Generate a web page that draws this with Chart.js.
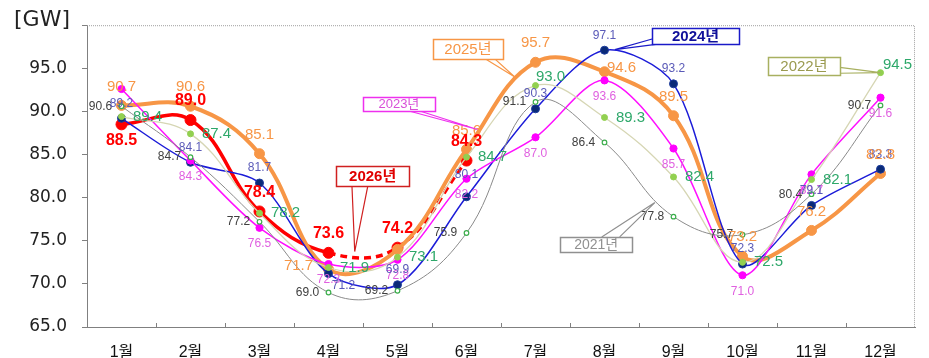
<!DOCTYPE html>
<html>
<head>
<meta charset="utf-8">
<script src="https://cdn.jsdelivr.net/npm/chart.js@4"></script>
<style>
  html, body { margin: 0; background: #fff; }
  #wrap { width: 929px; height: 358px; }
</style>
</head>
<body>
<div id="wrap"><canvas id="chart"></canvas></div>
<script>
// 월별 최대전력수요 [GW]
const months = ['1월', '2월', '3월', '4월', '5월', '6월', '7월', '8월', '9월', '10월', '11월', '12월'];
const y2021 = [90.6, 84.7, 77.2, 69.0, 69.2, 75.9, 91.1, 86.4, 77.8, 75.7, 80.4, 90.7];
const y2022 = [89.4, 87.4, 78.2, 71.9, 73.1, 84.7, 93.0, 89.3, 82.4, 72.5, 82.1, 94.5];
const y2023 = [92.6, 84.3, 76.5, 72.3, 72.8, 82.2, 87.0, 93.6, 85.7, 71.0, 82.7, 91.6];
const y2024 = [89.2, 84.1, 81.7, 71.2, 69.9, 80.1, 90.3, 97.1, 93.2, 72.3, 79.1, 83.3];
const y2025 = [90.7, 90.6, 85.1, 71.7, 74.0, 85.6, 95.7, 94.6, 89.5, 73.2, 76.2, 82.8];
const y2026 = [88.5, 89.0, 78.4, 73.6, 74.2, 84.3];
const yTicks = [65, 70, 75, 80, 85, 90, 95];

const NUM_FONT = '"Liberation Sans", Arial, sans-serif';
const TICK_FONT = '"DejaVu Sans", sans-serif';
const KR_FONT = '"Liberation Sans", "Noto Sans CJK KR", sans-serif';
const AXIS = '#808080';

// Beschriftung je Reihe: Versatz zum Punkt, Schrift, übersprungene Indizes
const labelStyles = {
  '2021': { color: '#404040', font: '12px ' + NUM_FONT, dx: -21, dy: 0 },
  '2022': { color: '#2ea86a', font: '15px ' + NUM_FONT, dx: 26, dy: 0,
            move: { 6: [15, -9], 11: [17, -8] } },
  '2023': { color: '#e060e0', font: '12px ' + NUM_FONT, dx: 0, dy: 16, skip: [0] },
  '2024': { color: '#5a5ab8', font: '12px ' + NUM_FONT, dx: 0, dy: -15,
            move: { 3: [15, 12], 5: [0, -22] } },
  '2025': { color: '#f79646', font: '15px ' + NUM_FONT, dx: 0, dy: -19, skip: [4],
            move: { 3: [-30, -3], 7: [17, -4] } },
  '2026': { color: '#ff0000', font: 'bold 16px ' + NUM_FONT, dx: 0, dy: -19,
            move: { 0: [0, 16] } },
};

// Sprechblasen (Kategorie-Index / GW-Wert)
const callouts = [
  { text: '2025년', color: '#f79646', textColor: '#f79646', font: '15px ' + KR_FONT,
    x: 5.02, y: 97.27, w: 70, h: 20, base: [[5.27, 96.1], [5.41, 96.1]], tip: [5.70, 94.0] },
  { text: '2024년', color: '#1a1ac8', textColor: '#10109a', font: 'bold 15px ' + KR_FONT,
    x: 8.32, y: 98.75, w: 87, h: 16, base: [[7.69, 98.4], [7.80, 97.84]], tip: [7.15, 97.16] },
  { text: '2023년', color: '#ee30ee', textColor: '#d850d8', font: '13px ' + KR_FONT,
    x: 4.02, y: 90.9, w: 72, h: 14, base: [[4.14, 90.11], [4.30, 90.11]], tip: [5.16, 87.9] },
  { text: '2026년', color: '#d02020', textColor: '#e00000', font: 'bold 15px ' + KR_FONT,
    x: 3.64, y: 82.5, w: 73, h: 20, base: [[3.34, 81.36], [3.57, 81.36]], tip: [3.38, 73.75] },
  { text: '2022년', color: '#a8b060', textColor: '#9a9a50', font: '15px ' + KR_FONT,
    x: 9.89, y: 95.23, w: 72, h: 18, base: [[10.41, 95.11], [10.41, 94.43]], tip: [11, 94.5] },
  { text: '2021년', color: '#909090', textColor: '#909090', font: '14px ' + KR_FONT,
    x: 6.88, y: 74.6, w: 72, h: 15, base: [[6.96, 75.45], [7.22, 75.45]], tip: [7.73, 79.43] },
];

const decorPlugin = {
  id: 'decor',
  afterDatasetsDraw(chart) {
    const { ctx, chartArea: a, scales: { x, y } } = chart;
    ctx.save();

    // Rahmen oben / rechts gepunktet
    ctx.strokeStyle = '#a0a0a0';
    ctx.lineWidth = 1;
    ctx.setLineDash([1, 1]);
    ctx.beginPath();
    ctx.moveTo(a.left, a.top + 0.5);
    ctx.lineTo(a.right - 0.5, a.top + 0.5);
    ctx.lineTo(a.right - 0.5, a.bottom);
    ctx.stroke();
    ctx.setLineDash([]);

    // kleine Teilstriche zwischen den Monaten, nach innen
    ctx.strokeStyle = AXIS;
    ctx.beginPath();
    for (let i = 1; i < months.length; i++) {
      const px = Math.round(x.getPixelForValue(i - 0.5)) + 0.5;
      ctx.moveTo(px, a.bottom);
      ctx.lineTo(px, a.bottom - 4);
    }
    ctx.stroke();

    // Werte an den Punkten
    ctx.textAlign = 'center';
    ctx.textBaseline = 'middle';
    chart.data.datasets.forEach((ds, di) => {
      const st = labelStyles[ds.label];
      const meta = chart.getDatasetMeta(di);
      ctx.font = st.font;
      ctx.fillStyle = st.color;
      meta.data.forEach((pt, i) => {
        if (st.skip && st.skip.includes(i)) return;
        const off = (st.move && st.move[i]) || [st.dx, st.dy];
        ctx.fillText(ds.data[i].toFixed(1), pt.x + off[0], pt.y + off[1]);
      });
    });

    // Sprechblasen
    callouts.forEach((c) => {
      const cx = x.getPixelForValue(c.x);
      const cy = y.getPixelForValue(c.y);
      const tx = x.getPixelForValue(c.tip[0]);
      const ty = y.getPixelForValue(c.tip[1]);
      ctx.strokeStyle = c.color;
      ctx.lineWidth = 1.2;
      ctx.beginPath();
      c.base.forEach((b) => {
        ctx.moveTo(x.getPixelForValue(b[0]), y.getPixelForValue(b[1]));
        ctx.lineTo(tx, ty);
      });
      ctx.stroke();
      const bx = Math.round(cx - c.w / 2) + 0.5;
      const by = Math.round(cy - c.h / 2) + 0.5;
      ctx.fillStyle = '#fff';
      ctx.fillRect(bx, by, c.w, c.h);
      ctx.lineWidth = 1.5;
      ctx.strokeRect(bx, by, c.w, c.h);
      ctx.font = c.font;
      ctx.fillStyle = c.textColor;
      ctx.fillText(c.text, cx, cy + 1);
    });

    // Einheit
    ctx.textAlign = 'left';
    ctx.fillStyle = '#222';
    ctx.font = '22px ' + TICK_FONT;
    ctx.fillText('[GW]', 14, 20);
    ctx.restore();
  },
};

function series(label, data, color, width, point, extra) {
  return Object.assign({
    label,
    data,
    borderColor: color,
    borderWidth: width,
    pointRadius: point.r,
    pointBackgroundColor: point.fill,
    pointBorderColor: point.stroke,
    pointBorderWidth: point.bw || 1,
    tension: 0.4,
    fill: false,
  }, extra || {});
}

new Chart(document.getElementById('chart'), {
  type: 'line',
  data: {
    labels: months,
    datasets: [
      series('2021', y2021, '#8a8a8a', 1, { r: 2.3, fill: '#fff', stroke: '#3cae4c', bw: 1.2 }),
      series('2022', y2022, '#d6d6b4', 1.3, { r: 3, fill: '#92d050', stroke: '#92d050' }),
      series('2023', y2023, '#ff10ff', 1.5, { r: 3.6, fill: '#ff00ff', stroke: '#ff00ff' }, { tension: 0.3 }),
      series('2024', y2024, '#1c1cd8', 1.5, { r: 4, fill: '#0a2a78', stroke: '#1c3c9c' }, { tension: 0.3 }),
      series('2025', y2025, '#f79646', 4, { r: 5, fill: '#f79646', stroke: '#f79646' }),
      series('2026', y2026, '#ff0000', 3.5, { r: 5.5, fill: '#ff0000', stroke: '#ff0000' }, {
        segment: { borderDash: (c) => (c.p0DataIndex >= 3 ? [7, 5] : undefined) },
      }),
    ],
  },
  options: {
    responsive: true,
    maintainAspectRatio: false,
    animation: false,
    layout: { padding: { top: 19, right: 14, left: 0, bottom: 0 } },
    plugins: { legend: { display: false }, tooltip: { enabled: false } },
    scales: {
      x: {
        offset: true,
        grid: { display: false },
        border: { color: AXIS },
        ticks: { padding: 8, color: '#111', font: { family: KR_FONT, size: 16 } },
        afterFit: (s) => { s.height = 31; },
      },
      y: {
        min: 65,
        max: 100,
        afterBuildTicks: (s) => { s.ticks = yTicks.concat([100]).map((v) => ({ value: v })); },
        grid: { drawOnChartArea: false, tickLength: 5, color: AXIS },
        border: { color: AXIS },
        ticks: {
          padding: 15,
          color: '#222',
          font: { family: TICK_FONT, size: 17 },
          callback: (v) => (v === 100 ? '' : v.toFixed(1)),
        },
        afterFit: (s) => { s.width = 87; },
      },
    },
  },
  plugins: [decorPlugin],
});
</script>
</body>
</html>
